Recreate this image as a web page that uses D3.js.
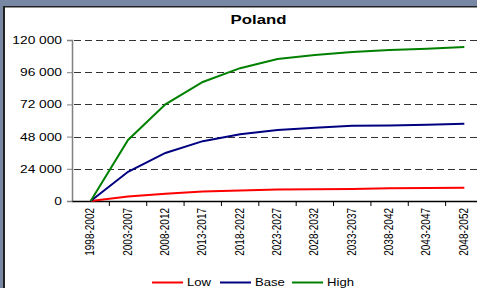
<!DOCTYPE html>
<html lang="en">
<head>
<meta charset="utf-8">
<title>Poland</title>
<script src="https://d3js.org/d3.v7.min.js"></script>
<style>
  body { margin: 0; background: #fff; }
  svg text { font-family: "Liberation Sans", Arial, sans-serif; }
</style>
</head>
<body>
<script>
var periods = ["1998-2002", "2003-2007", "2008-2012", "2013-2017", "2018-2022", "2023-2027",
               "2028-2032", "2033-2037", "2038-2042", "2043-2047", "2048-2052"];
var lowVals  = [0, 3300, 5400, 7000, 7800, 8500, 8700, 9000, 9500, 9700, 9900];
var baseVals = [0, 21800, 35800, 44600, 49800, 52900, 54600, 56000, 56200, 56800, 57500];
var highVals = [0, 45500, 72000, 88700, 99000, 105800, 108800, 111000, 112600, 113500, 114800];
var yTicks   = [0, 24000, 48000, 72000, 96000, 120000];
var seriesNames  = ["Low", "Base", "High"];
var seriesColors = ["#ff0000", "#000080", "#008000"];

// the picture is stretched sideways, so text is widened too
var stretch = 1.25;

var W = 477, H = 288,
    margin = {left: 72, top: 40},
    plotH = 161,
    plotW = 411;

var svg = d3.select("body").append("svg")
    .attr("width", W).attr("height", H);

// frame
svg.append("rect").attr("x", 0).attr("y", 0).attr("width", W).attr("height", 6).attr("fill", "#7887a4");
svg.append("rect").attr("x", 0).attr("y", 0).attr("width", 3).attr("height", H).attr("fill", "#7887a4");
svg.append("rect").attr("x", 3).attr("y", 6).attr("width", W).attr("height", 1.5).attr("fill", "#222");
svg.append("rect").attr("x", 3).attr("y", 6).attr("width", 2).attr("height", H).attr("fill", "#222");

var x = d3.scaleBand().domain(periods).range([margin.left, margin.left + plotW]);
var y = d3.scaleLinear().domain([0, 120000]).range([margin.top + plotH, margin.top]);

// gridlines
svg.selectAll("line.grid").data(yTicks.slice(1)).enter().append("line")
    .attr("class", "grid")
    .attr("x1", margin.left).attr("x2", W)
    .attr("y1", function(d){ return Math.round(y(d)) + 0.5; })
    .attr("y2", function(d){ return Math.round(y(d)) + 0.5; })
    .attr("stroke", "#333").attr("stroke-width", 1)
    .attr("stroke-dasharray", "7,4").attr("stroke-dashoffset", -2);

// y axis
var yAxis = d3.axisLeft(y).tickValues(yTicks).tickSize(5).tickPadding(0)
    .tickFormat(function(d){ return d3.format(",")(d).replace(/,/g, " "); });
var gy = svg.append("g").attr("transform", "translate(" + margin.left + ",0)").call(yAxis);
gy.select(".domain").attr("stroke", "#808080").attr("stroke-width", 1.5);
gy.selectAll(".tick line").attr("stroke", "#808080");
gy.selectAll("text")
    .attr("x", -10 / stretch)
    .attr("transform", "scale(" + stretch + ",1)")
    .attr("font-size", 11).attr("fill", "#000")
    .style("font-family", "'Liberation Sans', Arial, sans-serif");

// x axis
var xAxis = d3.axisBottom(x).tickSize(0).tickFormat("");
var gx = svg.append("g").attr("transform", "translate(0," + (margin.top + plotH) + ")").call(xAxis);
gx.select(".domain").attr("stroke", "#000").attr("stroke-width", 1.5);
gx.selectAll(".tick").remove();

// tick marks between categories
svg.selectAll("line.xtick").data(periods).enter().append("line")
    .attr("class", "xtick")
    .attr("x1", function(d){ return x(d) + x.bandwidth(); })
    .attr("x2", function(d){ return x(d) + x.bandwidth(); })
    .attr("y1", margin.top + plotH).attr("y2", margin.top + plotH + 5)
    .attr("stroke", "#000");

svg.selectAll("text.xlab").data(periods).enter().append("text")
    .attr("class", "xlab")
    .attr("transform", function(d){
      return "translate(" + (x(d) + x.bandwidth() / 2 + 3.5) + "," + (margin.top + plotH + 7) + ") scale(" + stretch + ",1) rotate(-90)";
    })
    .attr("text-anchor", "end")
    .attr("font-size", 10)
    .text(function(d){ return d; });

// lines
var allSeries = [lowVals, baseVals, highVals];
var line = d3.line()
    .x(function(d, i){ return x(periods[i]) + x.bandwidth() / 2; })
    .y(function(d){ return y(d); });

svg.selectAll("path.series").data(allSeries).enter().append("path")
    .attr("class", "series")
    .attr("d", line)
    .attr("fill", "none")
    .attr("stroke", function(d, i){ return seriesColors[i]; })
    .attr("stroke-width", 2);

// title
svg.append("text")
    .attr("transform", "translate(258.5,24) scale(1.4,1)")
    .attr("text-anchor", "middle").attr("font-size", 12).attr("font-weight", "bold")
    .text("Poland");

// legend
var legendX = [152, 220, 292];
var lg = svg.selectAll("g.legend").data(seriesNames).enter().append("g")
    .attr("class", "legend")
    .attr("transform", function(d, i){ return "translate(" + legendX[i] + ",282.5)"; });
lg.append("line").attr("x1", 0).attr("x2", 31).attr("y1", 0).attr("y2", 0)
    .attr("stroke", function(d, i){ return seriesColors[i]; }).attr("stroke-width", 2);
lg.append("text")
    .attr("transform", "translate(35,3.5) scale(" + stretch + ",1)")
    .attr("font-size", 10.5).text(function(d){ return d; });
</script>
</body>
</html>
